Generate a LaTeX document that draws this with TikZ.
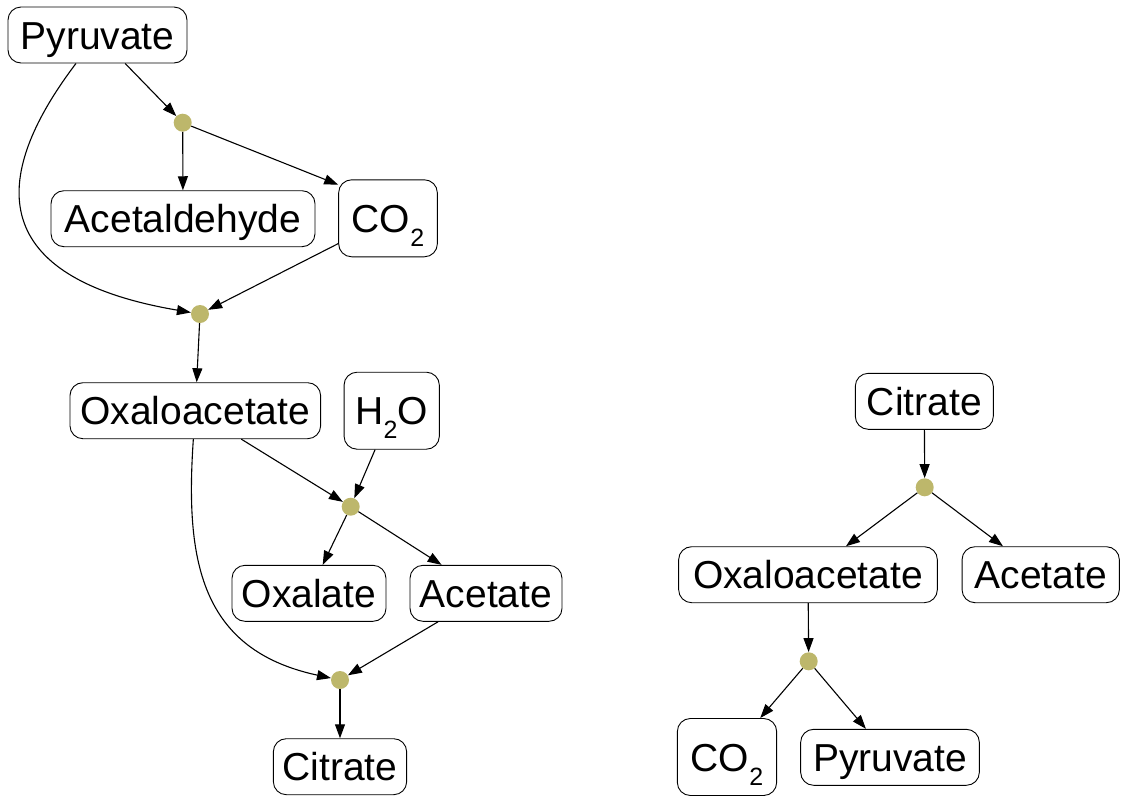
\documentclass[tikz,border=0pt]{standalone}
\usepackage{fontspec}
\setmainfont{Liberation Sans}
\usetikzlibrary{arrows.meta}
\definecolor{dotcol}{RGB}{189,183,107}
\newcommand\lowsub[1]{\raisebox{-14pt}{\fontsize{25}{25}\selectfont #1}}
\begin{document}
\begin{tikzpicture}[x=1pt,y=-1pt,
  species/.style={draw, line width=0.9pt, rounded corners=13pt, minimum height=56pt,
    inner xsep=0pt, inner ysep=0pt, text height=28pt, text depth=0pt,
    font=\fontsize{39}{46}\selectfont},
  tall/.style={minimum height=77pt},
  rxn/.style={circle, fill=dotcol, minimum size=18pt, inner sep=0pt},
  link/.style={line width=1.1pt, -{Triangle[length=14pt,width=10pt]}}]
\useasboundingbox (0,0) rectangle (1122,796);
% left graph
\node[species, minimum width=179pt] (pyrL) at (97.5,35) {Pyruvate};
\node[rxn] (dA) at (182.7,122.7) {};
\node[species, minimum width=264pt] (acald) at (183,218.7) {Acetaldehyde};
\node[species, tall, minimum width=98.7pt] (co2L) at (388,218.3) {CO\lowsub{2}};
\node[rxn] (dB) at (200,314) {};
\node[species, minimum width=250.7pt] (oaaL) at (195.3,410.7) {Oxaloacetate};
\node[species, tall, minimum width=95.3pt] (h2o) at (391.7,410.7) {H\lowsub{2}O};
\node[rxn] (dC) at (350.7,506.7) {};
\node[species, minimum width=154pt] (oxal) at (309,593.3) {Oxalate};
\node[species, minimum width=152pt] (acetL) at (486,593.3) {Acetate};
\node[rxn] (dD) at (340,680) {};
\node[species, minimum width=133.3pt] (citL) at (340,766.7) {Citrate};
% right graph
\node[species, minimum width=138pt] (citR) at (924.3,401.3) {Citrate};
\node[rxn] (dE) at (924.7,487.3) {};
\node[species, minimum width=258.7pt] (oaaR) at (808,574.7) {Oxaloacetate};
\node[species, minimum width=157.3pt] (acetR) at (1040.7,574.7) {Acetate};
\node[rxn] (dF) at (808.7,661.3) {};
\node[species, tall, minimum width=99.3pt] (co2R) at (727,757) {CO\lowsub{2}};
\node[species, minimum width=178.7pt] (pyrR) at (890,757.3) {Pyruvate};
% left edges
\draw[link] (pyrL) -- (dA);
\draw[link] (dA) -- (acald);
\draw[link] (dA) -- (co2L.146);
\draw[link] (pyrL) .. controls (-20,190) and (0,280) .. (dB);
\draw[link] (co2L) -- (dB);
\draw[link] (dB) -- (oaaL);
\draw[link] (oaaL) -- (dC);
\draw[link] (h2o) -- (dC);
\draw[link] (dC) -- (oxal);
\draw[link] (dC) -- (acetL);
\draw[link] (oaaL) .. controls (185,560) and (200,650) .. (dD);
\draw[link] (acetL) -- (dD);
\draw[link] (dD) -- (citL);
% right edges
\draw[link] (citR) -- (dE);
\draw[link] (dE) -- (oaaR);
\draw[link] (dE) -- (acetR);
\draw[link] (oaaR) -- (dF);
\draw[link] (dF) -- (co2R);
\draw[link] (dF) -- (pyrR);
\end{tikzpicture}
\end{document}
